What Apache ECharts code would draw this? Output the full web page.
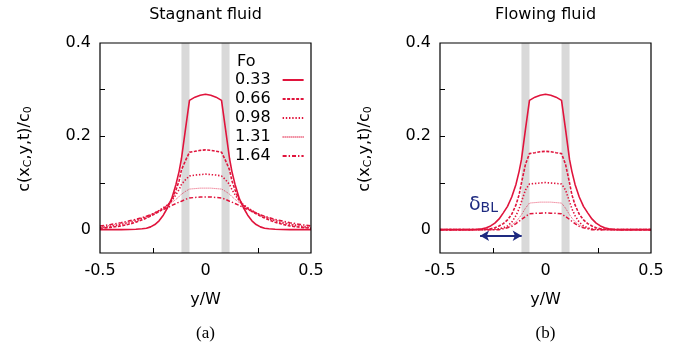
<!DOCTYPE html>
<html>
<head>
<meta charset="utf-8">
<script src="https://cdn.jsdelivr.net/npm/echarts@6/dist/echarts.min.js"></script>
<style>
  html, body { margin: 0; padding: 0; background: #fff; }
  #main { width: 685px; height: 352px; }
</style>
</head>
<body>
<div id="main"></div>
<script>
// y/W positions shared by every profile
var yW = [-0.5,-0.45,-0.4,-0.36,-0.33,-0.3,-0.28,-0.26,-0.24,-0.22,-0.2,-0.18,-0.16,-0.14,-0.125,-0.114,-0.095,-0.076,-0.05,-0.025,0,
          0.025,0.05,0.076,0.095,0.114,0.125,0.14,0.16,0.18,0.2,0.22,0.24,0.26,0.28,0.3,0.33,0.36,0.4,0.45,0.5];

var foNames = ['0.33', '0.66', '0.98', '1.31', '1.64'];

// (a) stagnant fluid
var stag033 = [0,0,0,0.0005,0.001,0.002,0.003,0.006,0.011,0.019,0.031,0.047,0.067,0.097,0.125,0.152,0.215,0.277,0.284,0.288,0.29,
               0.288,0.284,0.277,0.215,0.152,0.125,0.097,0.067,0.047,0.031,0.019,0.011,0.006,0.003,0.002,0.001,0.0005,0,0,0];
var stag066 = [0.003,0.005,0.008,0.012,0.016,0.021,0.025,0.029,0.034,0.039,0.045,0.052,0.063,0.085,0.105,0.128,0.148,0.166,0.168,0.17,0.171,
               0.17,0.168,0.166,0.148,0.128,0.105,0.085,0.063,0.052,0.045,0.039,0.034,0.029,0.025,0.021,0.016,0.012,0.008,0.005,0.003];
var stag098 = [0.004,0.007,0.011,0.015,0.019,0.024,0.027,0.031,0.036,0.041,0.047,0.053,0.062,0.075,0.086,0.097,0.107,0.115,0.117,0.118,0.119,
               0.118,0.117,0.115,0.107,0.097,0.086,0.075,0.062,0.053,0.047,0.041,0.036,0.031,0.027,0.024,0.019,0.015,0.011,0.007,0.004];
var stag131 = [0.006,0.009,0.013,0.017,0.021,0.025,0.028,0.032,0.036,0.041,0.046,0.052,0.058,0.065,0.071,0.076,0.082,0.087,0.088,0.089,0.089,
               0.089,0.088,0.087,0.082,0.076,0.071,0.065,0.058,0.052,0.046,0.041,0.036,0.032,0.028,0.025,0.021,0.017,0.013,0.009,0.006];
var stag164 = [0.008,0.011,0.015,0.019,0.022,0.026,0.029,0.032,0.036,0.04,0.043,0.047,0.052,0.056,0.059,0.061,0.065,0.068,0.069,0.07,0.07,
               0.07,0.069,0.068,0.065,0.061,0.059,0.056,0.052,0.047,0.043,0.04,0.036,0.032,0.029,0.026,0.022,0.019,0.015,0.011,0.008];

// (b) flowing fluid
var flow033 = [0,0,0,0,0.0005,0.002,0.004,0.008,0.014,0.023,0.036,0.05,0.07,0.097,0.125,0.15,0.215,0.277,0.284,0.288,0.29,
               0.288,0.284,0.277,0.215,0.15,0.125,0.097,0.07,0.05,0.036,0.023,0.014,0.008,0.004,0.002,0.0005,0,0,0,0];
var flow066 = [0,0,0,0,0,0.0005,0.001,0.002,0.004,0.008,0.013,0.021,0.033,0.053,0.075,0.1,0.14,0.163,0.165,0.167,0.168,
               0.167,0.165,0.163,0.14,0.1,0.075,0.053,0.033,0.021,0.013,0.008,0.004,0.002,0.001,0.0005,0,0,0,0,0];
var flow098 = [0,0,0,0,0,0,0,0,0.001,0.002,0.004,0.008,0.016,0.03,0.045,0.06,0.085,0.098,0.099,0.1,0.101,
               0.1,0.099,0.098,0.085,0.06,0.045,0.03,0.016,0.008,0.004,0.002,0.001,0,0,0,0,0,0,0,0];
var flow131 = [0,0,0,0,0,0,0,0,0,0.001,0.003,0.005,0.01,0.017,0.025,0.032,0.046,0.057,0.058,0.059,0.059,
               0.059,0.058,0.057,0.046,0.032,0.025,0.017,0.01,0.005,0.003,0.001,0,0,0,0,0,0,0,0,0];
var flow164 = [0,0,0,0,0,0,0,0,0,0,0.002,0.004,0.007,0.013,0.018,0.022,0.028,0.034,0.035,0.035,0.036,
               0.035,0.035,0.034,0.028,0.022,0.018,0.013,0.007,0.004,0.002,0,0,0,0,0,0,0,0,0,0];

// membrane bands (grey) and the boundary-layer arrow
var bands = [[-0.114, -0.076], [0.076, 0.114]];
var blArrowX = [-0.31, -0.113];
var blArrowY = -0.013;

var xLabelVals = [-0.5, 0, 0.5];
var xTickVals = [-0.25, 0.25];
var yLabelVals = [0, 0.2, 0.4];
var yTickVals = [0.1, 0.2, 0.3];

var red = '#e0143c';
var navy = '#1e2a80';
var font = 'DejaVu Sans';

var lineStyles = [
  { width: 1.6, type: 'solid' },
  { width: 1.6, type: [3, 1.5] },
  { width: 1.6, type: [1.4, 1.8] },
  { width: 1, type: [1, 1], opacity: 0.75 },
  { width: 1.5, type: [4, 2, 1.4, 2] }
];

function pairs(vals) {
  return yW.map(function (x, i) { return [x, vals[i]]; });
}

function curves(list, idx) {
  return list.map(function (vals, k) {
    return {
      name: foNames[k],
      type: 'line',
      xAxisIndex: idx,
      yAxisIndex: idx,
      data: pairs(vals),
      symbol: 'none',
      z: 3,
      animation: false,
      lineStyle: Object.assign({ color: red }, lineStyles[k]),
      itemStyle: { color: red }
    };
  });
}

function bandSeries(idx, extra) {
  var s = {
    type: 'line',
    xAxisIndex: idx,
    yAxisIndex: idx,
    data: [],
    z: 1,
    silent: true,
    animation: false,
    markArea: {
      silent: true,
      itemStyle: { color: '#d9d9d9' },
      data: bands.map(function (b) { return [{ xAxis: b[0] }, { xAxis: b[1] }]; })
    }
  };
  return Object.assign(s, extra || {});
}

function xAxisOpt(idx) {
  return {
    gridIndex: idx, type: 'value', min: -0.5, max: 0.5,
    axisLine: { show: false, onZero: false },
    splitLine: { show: false },
    axisTick: { show: true, inside: true, length: 5, customValues: xTickVals, lineStyle: { color: '#000', width: 1 } },
    axisLabel: { customValues: xLabelVals, margin: 10, color: '#000', fontFamily: font, fontSize: 16,
      formatter: function (v) { return String(v); } },
    name: 'y/W', nameLocation: 'middle', nameGap: 39,
    nameTextStyle: { color: '#000', fontFamily: font, fontSize: 16 }
  };
}

function yAxisOpt(idx) {
  return {
    gridIndex: idx, type: 'value', min: -0.05, max: 0.4,
    axisLine: { show: false, onZero: false },
    splitLine: { show: false },
    axisTick: { show: true, inside: true, length: 5, customValues: yTickVals, lineStyle: { color: '#000', width: 1 } },
    axisLabel: { customValues: yLabelVals, margin: 9, color: '#000', fontFamily: font, fontSize: 16,
      formatter: function (v) { return String(v); } }
  };
}

function yName(x) {
  return {
    type: 'text', x: x, y: 149, rotation: Math.PI / 2,
    style: {
      text: '{n|c(x}{s|C}{n|,y,t)/c}{s|0}',
      align: 'center', verticalAlign: 'middle',
      rich: {
        n: { fontFamily: font, fontSize: 16, lineHeight: 18, fill: '#000' },
        s: { fontFamily: font, fontSize: 11, lineHeight: 10, verticalAlign: 'bottom', fill: '#000' }
      }
    }
  };
}

var chart = echarts.init(document.getElementById('main'));

var series = [];
series.push(bandSeries(0));
series.push(bandSeries(1, {
  markLine: {
    silent: true,
    symbol: ['arrow', 'arrow'],
    symbolSize: [8, 9],
    label: { show: false },
    lineStyle: { color: navy, width: 2, type: 'solid' },
    data: [[{ coord: [blArrowX[0], blArrowY] }, { coord: [blArrowX[1], blArrowY] }]]
  }
}));
series = series.concat(curves([stag033, stag066, stag098, stag131, stag164], 0));
series = series.concat(curves([flow033, flow066, flow098, flow131, flow164], 1));

chart.setOption({
  backgroundColor: '#fff',
  animation: false,
  grid: [
    { left: 100, top: 43, width: 211, height: 210, show: true, z: 5, borderColor: '#000', borderWidth: 1.2, backgroundColor: 'transparent' },
    { left: 440, top: 43, width: 211, height: 210, show: true, z: 5, borderColor: '#000', borderWidth: 1.2, backgroundColor: 'transparent' }
  ],
  xAxis: [xAxisOpt(0), xAxisOpt(1)],
  yAxis: [yAxisOpt(0), yAxisOpt(1)],
  legend: {
    data: foNames,
    orient: 'vertical',
    left: 230,
    top: 67,
    align: 'right',
    itemWidth: 21,
    itemHeight: 10,
    itemGap: 3,
    itemStyle: { opacity: 0 },
    textStyle: { color: '#000', fontFamily: font, fontSize: 16, lineHeight: 16, padding: [0, 7, 0, 0] }
  },
  graphic: [
    { type: 'text', x: 205.5, y: 15, style: { text: 'Stagnant fluid', align: 'center', verticalAlign: 'middle', fontFamily: font, fontSize: 16, fill: '#000' } },
    { type: 'text', x: 545.5, y: 15, style: { text: 'Flowing fluid', align: 'center', verticalAlign: 'middle', fontFamily: font, fontSize: 16, fill: '#000' } },
    { type: 'text', x: 237, y: 62, style: { text: 'Fo', align: 'left', verticalAlign: 'middle', fontFamily: font, fontSize: 16, fill: '#000' } },
    yName(25),
    yName(365),
    { type: 'text', x: 205.5, y: 334, style: { text: '(a)', align: 'center', verticalAlign: 'middle', fontFamily: 'Liberation Serif', fontSize: 17, fill: '#000' } },
    { type: 'text', x: 545.5, y: 334, style: { text: '(b)', align: 'center', verticalAlign: 'middle', fontFamily: 'Liberation Serif', fontSize: 17, fill: '#000' } },
    {
      type: 'text', x: 469, y: 205,
      style: {
        text: '{d|δ}{b|BL}', align: 'left', verticalAlign: 'middle',
        rich: {
          d: { fontFamily: font, fontSize: 19, lineHeight: 20, fill: navy },
          b: { fontFamily: font, fontSize: 14, lineHeight: 12, verticalAlign: 'bottom', fill: navy }
        }
      }
    }
  ],
  series: series
});
</script>
</body>
</html>
